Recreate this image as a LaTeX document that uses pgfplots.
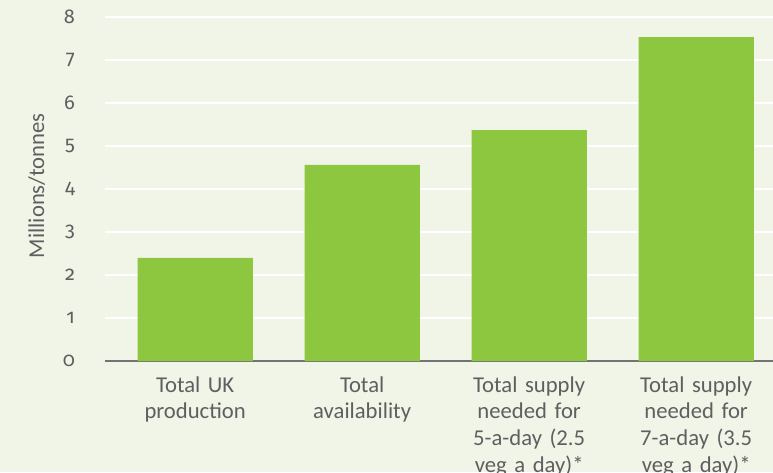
\documentclass[border=0pt]{standalone}
\usepackage{pgfplots}
\pgfplotsset{compat=1.18}
\usepackage{fontspec}
\setmainfont{Carlito}
\newfontfamily\tickfont{Fira Sans}[Numbers=OldStyle]
\definecolor{bg}{RGB}{240,245,232}
\definecolor{barc}{RGB}{141,198,63}
\definecolor{txt}{RGB}{95,95,95}
\begin{document}
\begin{tikzpicture}
\path[use as bounding box, clip] (-78.75pt,-83.25pt) rectangle (501pt,270.75pt);
\fill[bg] (-78.75pt,-83.25pt) rectangle (501pt,270.75pt);
\begin{axis}[
  at={(0pt,0pt)}, anchor=south west,
  scale only axis, width=501pt, height=258pt,
  xmin=-0.54, xmax=3.46, ymin=0, ymax=8,
  axis x line*=bottom, axis y line*=left,
  x axis line style={draw=gray!90!black, line width=0.9pt, -},
  y axis line style={draw=none},
  major tick length=0pt,
  ytick={0,1,...,8},
  ymajorgrids, grid style={white, line width=1.6pt},
  xtick=data,
  xticklabels={{Total UK\\production},{Total\\availability},{Total supply\\needed for\\5-a-day (2.5\\veg a day)*},{Total supply\\needed for\\7-a-day (3.5\\veg a day)*}},
  /pgf/number format/assume math mode=true,
  tick label style={text=txt},
  yticklabel style={font=\tickfont\fontsize{15}{15}\selectfont, xshift=-19pt},
  xticklabel style={font=\fontsize{17}{20}\selectfont, align=center, text width=140pt, yshift=-8pt},
  ylabel={Millions/tonnes},
  ylabel style={at={(axis description cs:-0.102,0.51)}, anchor=center, text=txt, font=\fontsize{17}{17}\selectfont},
  ybar, bar width=0.69,
]
\addplot[fill=barc, draw=none] coordinates {(0,2.40) (1,4.56) (2,5.37) (3,7.53)};
\end{axis}
\end{tikzpicture}
\end{document}
